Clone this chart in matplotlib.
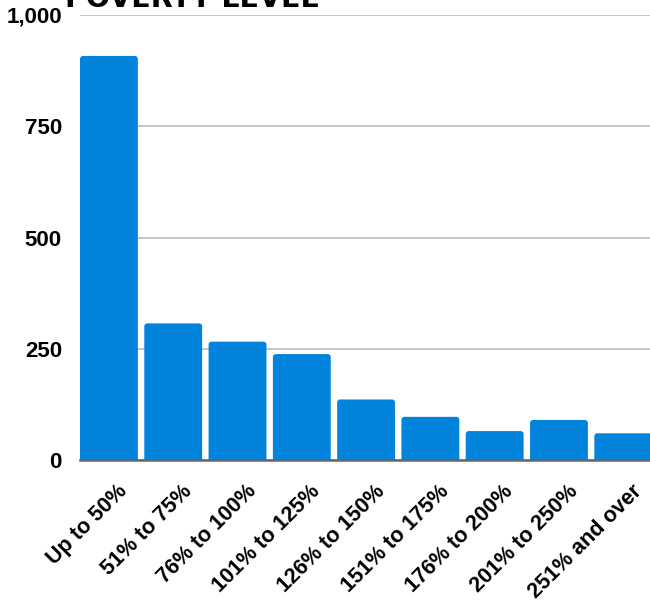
import matplotlib
matplotlib.use("Agg")
import matplotlib.pyplot as plt
from matplotlib.patches import FancyBboxPatch
from matplotlib.transforms import ScaledTranslation

categories = ["Up to 50%", "51% to 75%", "76% to 100%", "101% to 125%",
              "126% to 150%", "151% to 175%", "176% to 200%",
              "201% to 250%", "251% and over"]
values = [908, 307, 266, 238, 136, 97, 65, 90, 60]
y_ticks = [0, 250, 500, 750, 1000]
y_tick_labels = ["0", "250", "500", "750", "1,000"]
title = "POVERTY LEVEL"

BAR = "#0384DC"
FONT = "Liberation Sans"

W, H = 650, 607
fig = plt.figure(figsize=(W / 100, H / 100), dpi=100)
ax = fig.add_axes([80 / W, (H - 460) / H, 570 / W, 445 / H])

xs = list(range(len(categories)))
bars = ax.bar(xs, values, width=0.9, color=BAR, zorder=3)
ax.set_xlim(-0.45, 8.416)
ax.set_ylim(0, 1000)

# rounded tops
fig.canvas.draw()
p0 = ax.transData.transform((0, 0))
p1 = ax.transData.transform((1, 1000))
xu_per_px = 1 / (p1[0] - p0[0])
yu_per_px = 1000 / (p1[1] - p0[1])
aspect = yu_per_px / xu_per_px
r = 3 * xu_per_px
for rect in bars:
    x, w, h = rect.get_x(), rect.get_width(), rect.get_height()
    rect.set_visible(False)
    patch = FancyBboxPatch((x, -40), w, h + 40,
                           boxstyle=f"round,pad=0,rounding_size={r}",
                           mutation_aspect=aspect, facecolor=BAR,
                           edgecolor="none", zorder=3)
    ax.add_patch(patch)

ax.set_yticks(y_ticks)
ax.set_yticklabels(y_tick_labels, fontfamily=FONT, fontweight="bold",
                   fontsize=16, color="black")
ax.yaxis.grid(True, color="#BDBDBD", linewidth=1.2, zorder=0)
ax.set_axisbelow(True)
ax.tick_params(axis="y", length=0, pad=13)

ax.set_xticks(xs)
ax.set_xticklabels(categories, fontfamily=FONT, fontweight="bold",
                   fontsize=15.5, color="black")
ax.tick_params(axis="x", length=0, pad=15)
offset = ScaledTranslation(8 / 100, 0, fig.dpi_scale_trans)
for lab in ax.get_xticklabels():
    lab.set_rotation(45)
    lab.set_ha("right")
    lab.set_va("top")
    lab.set_rotation_mode("anchor")
    lab.set_transform(lab.get_transform() + offset)

for s in ax.spines.values():
    s.set_visible(False)
ax.axhline(0, color="#666666", linewidth=1.8, zorder=4, clip_on=False)

fig.text(65 / W, 1 - 7 / H, title, fontfamily="DejaVu Sans", fontweight="bold",
         fontsize=20.5, va="baseline", ha="left", color="black")

fig.savefig("out.png", dpi=100)
